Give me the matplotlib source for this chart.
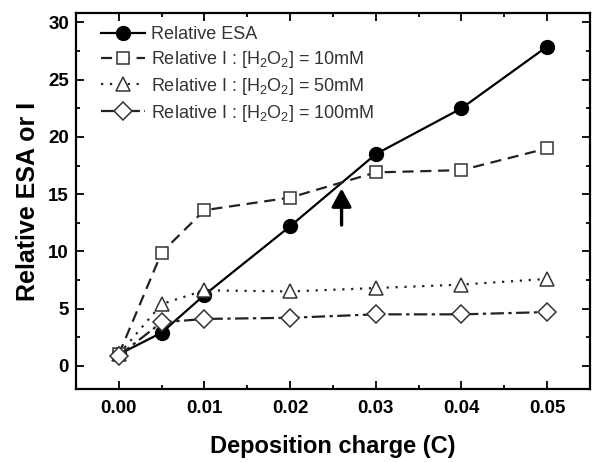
import matplotlib
matplotlib.use("Agg")
import matplotlib.pyplot as plt
from matplotlib.ticker import MultipleLocator

plt.rcParams["font.family"] = ["Liberation Sans", "DejaVu Sans"]
plt.rcParams["mathtext.fontset"] = "custom"
plt.rcParams["mathtext.rm"] = "Liberation Sans"
plt.rcParams["mathtext.default"] = "regular"

# deposition charge (C)
charge = [0.0, 0.005, 0.01, 0.02, 0.03, 0.04, 0.05]

esa = [1.0, 2.9, 6.2, 12.2, 18.5, 22.5, 27.9]
i_10mm = [1.0, 9.9, 13.6, 14.7, 16.9, 17.1, 19.0]
i_50mm = [1.0, 5.4, 6.6, 6.5, 6.8, 7.1, 7.6]
i_100mm = [0.9, 3.8, 4.1, 4.2, 4.5, 4.5, 4.7]

labels = [
    "Relative ESA",
    "Relative I : [H$_2$O$_2$] = 10mM",
    "Relative I : [H$_2$O$_2$] = 50mM",
    "Relative I : [H$_2$O$_2$] = 100mM",
]

# arrow marking the crossing point
arrow_x = 0.026
arrow_y = (12.3, 15.5)

fig = plt.figure(figsize=(5.95, 4.62), dpi=100)
ax = fig.add_axes([0.1277, 0.1573, 0.8639, 0.8139])

ax.plot(charge, esa, "-", color="black", lw=1.6, marker="o", ms=10,
        mfc="black", mec="black", label=labels[0])
ax.plot(charge, i_10mm, color="#222222", lw=1.6, ls=(0, (5, 3)), marker="s", ms=8.5,
        mfc="white", mec="#333333", mew=1.1, label=labels[1])
ax.plot(charge, i_50mm, color="#222222", lw=1.6, ls=(0, (1, 3)), marker="^", ms=10,
        mfc="white", mec="#333333", mew=1.1, label=labels[2])
ax.plot(charge, i_100mm, color="#222222", lw=1.6, ls=(0, (6, 2, 1.5, 2)), marker="D", ms=9,
        mfc="white", mec="#333333", mew=1.1, label=labels[3])

ax.annotate("", xy=(arrow_x, arrow_y[1]), xytext=(arrow_x, arrow_y[0]),
            arrowprops=dict(arrowstyle="-|>,head_width=0.6,head_length=1.1",
                            color="black", lw=2.4, shrinkA=0, shrinkB=0))

ax.set_xlim(-0.005, 0.055)
ax.set_ylim(-2.05, 30.8)
ax.xaxis.set_major_locator(MultipleLocator(0.01))
ax.xaxis.set_minor_locator(MultipleLocator(0.005))
ax.yaxis.set_major_locator(MultipleLocator(5))
ax.yaxis.set_minor_locator(MultipleLocator(2.5))
ax.xaxis.set_major_formatter(lambda v, p: f"{v:.2f}")

ax.tick_params(which="both", direction="in", top=True, right=True, width=1.3)
ax.tick_params(which="major", length=6, labelsize=13.5)
ax.tick_params(axis="x", which="major", pad=8)
ax.tick_params(axis="y", which="major", pad=5)
ax.tick_params(which="minor", length=3)
for lab in ax.get_xticklabels() + ax.get_yticklabels():
    lab.set_fontweight("bold")
for sp in ax.spines.values():
    sp.set_linewidth(1.6)

ax.set_xlabel("Deposition charge (C)", fontsize=17, fontweight="bold", labelpad=13)
ax.set_ylabel("Relative ESA or I", fontsize=18, fontweight="bold", labelpad=6)

leg = ax.legend(loc="upper left", frameon=False, fontsize=13, handlelength=2.4,
                handletextpad=0.35, labelspacing=0.32, borderaxespad=0.0,
                bbox_to_anchor=(0.035, 0.985))
for t in leg.get_texts():
    t.set_color("#333333")

fig.savefig("out.png", dpi=100)
